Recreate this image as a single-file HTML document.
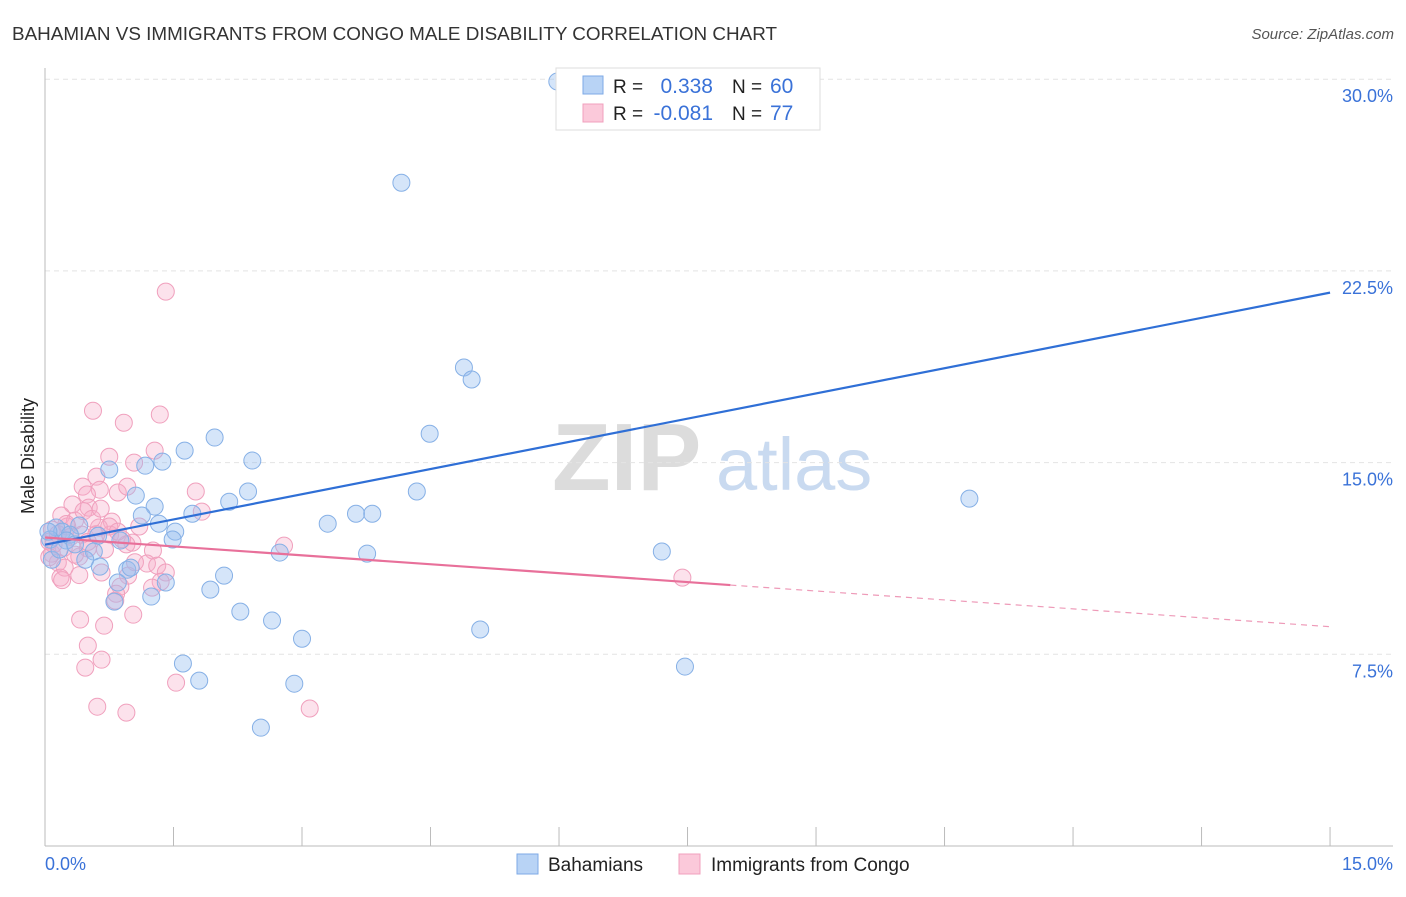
<!DOCTYPE html>
<html><head><meta charset="utf-8"><style>
body{margin:0;background:#fff;font-family:"Liberation Sans",sans-serif;}
svg text{font-family:"Liberation Sans",sans-serif;}
</style></head><body>
<svg id="chart" width="1406" height="892">
<text x="12" y="40" font-size="18" fill="#333" textLength="765" lengthAdjust="spacingAndGlyphs">BAHAMIAN VS IMMIGRANTS FROM CONGO MALE DISABILITY CORRELATION CHART</text>
<text x="1394" y="39" font-size="15" fill="#555" font-style="italic" text-anchor="end">Source: ZipAtlas.com</text>
<text x="34" y="456" font-size="18" fill="#222" transform="rotate(-90 34 456)" text-anchor="middle">Male Disability</text>
<g>
<text x="552" y="490" font-size="96" fill="#dcdcdc" font-family="Liberation Serif" font-weight="bold">ZIP</text>
<text x="716" y="490" font-size="74" fill="#c9daf0">atlas</text>
</g>
<g id="grid"></g><g id="axes"></g><g id="pts"></g><g id="lines"></g>
<g>
<rect x="556" y="68" width="264" height="62" fill="#fff" stroke="#ddd"/>
<rect x="583" y="76" width="20" height="18" fill="#b8d3f5" stroke="#7eaae6"/>
<rect x="583" y="104" width="20" height="18" fill="#fbc9da" stroke="#f0a0bd"/>
<text x="613" y="93" font-size="19" fill="#222">R =</text>
<text x="713" y="93" font-size="21" fill="#3a72d8" text-anchor="end">0.338</text>
<text x="732" y="93" font-size="19" fill="#222">N =</text>
<text x="770" y="93" font-size="21" fill="#3a72d8">60</text>
<text x="613" y="120" font-size="19" fill="#222">R =</text>
<text x="713" y="120" font-size="21" fill="#3a72d8" text-anchor="end">-0.081</text>
<text x="732" y="120" font-size="19" fill="#222">N =</text>
<text x="770" y="120" font-size="21" fill="#3a72d8">77</text>
</g>
<g>
<rect x="517" y="854" width="21" height="20" fill="#b8d3f5" stroke="#7eaae6"/>
<text x="548" y="871" font-size="19" fill="#222">Bahamians</text>
<rect x="679" y="854" width="21" height="20" fill="#fbc9da" stroke="#f0a0bd"/>
<text x="711" y="871" font-size="19" fill="#222">Immigrants from Congo</text>
</g>
</svg>
<script>
const yTicks=[7.5,15,22.5,30];
const yTickLabels=["7.5%","15.0%","22.5%","30.0%"];
const xTickLabels=["0.0%","15.0%"];
const blueX=[5.98,4.16,4.89,4.98,4.49,1.98,1.63,2.42,1.37,1.17,0.75,2.37,1.06,4.34,2.15,1.28,1.72,10.79,3.63,3.82,3.30,1.13,1.33,1.52,0.40,0.13,0.20,0.29,0.62,0.88,0.06,1.49,3.76,2.74,7.20,0.57,0.47,0.64,0.96,1.00,2.09,1.41,0.85,1.93,1.24,0.81,2.28,2.65,3.00,5.08,1.61,1.80,2.91,7.47,2.52,0.04,0.08,0.25,0.17,0.35];
const blueY=[29.91,25.95,18.72,18.25,16.13,15.98,15.47,15.08,15.04,14.88,14.73,13.87,13.71,13.87,13.47,13.28,13.00,13.59,13.00,13.00,12.61,12.93,12.61,12.30,12.54,12.46,12.30,12.18,12.14,11.95,11.99,11.99,11.44,11.48,11.52,11.52,11.20,10.93,10.81,10.89,10.58,10.31,10.31,10.03,9.76,9.56,9.17,8.82,8.11,8.47,7.14,6.47,6.35,7.02,4.63,12.3,11.2,11.95,11.6,11.8];
const pinkX=[1.41,0.56,1.34,0.92,1.28,0.75,1.04,0.60,0.44,0.64,0.85,0.96,0.49,1.76,0.32,0.51,1.83,0.19,0.35,0.78,0.26,0.63,0.08,0.43,0.76,0.05,1.02,2.79,0.22,0.50,1.26,0.08,0.40,0.15,1.19,1.31,0.23,0.66,0.97,1.41,0.18,1.35,1.25,0.88,7.44,0.83,0.82,1.03,0.41,0.69,0.50,0.66,0.47,1.53,0.61,0.95,3.09,0.1,0.3,0.6,0.9,0.2,0.7,1.1,0.45,0.55,0.35,0.05,0.75,0.15,0.95,0.4,0.25,0.65,0.85,1.05,0.5];
const pinkY=[21.69,17.03,16.88,16.56,15.47,15.23,15.00,14.45,14.06,13.94,13.83,14.06,13.75,13.87,13.36,13.24,13.08,12.93,12.73,12.69,12.50,12.46,12.38,12.18,12.18,11.91,11.87,11.75,11.67,11.64,11.56,11.44,11.32,11.09,11.05,10.97,10.89,10.70,10.58,10.70,10.50,10.34,10.11,10.15,10.50,9.87,9.60,9.05,8.86,8.62,7.84,7.29,6.98,6.39,5.45,5.22,5.38,11.8,12.1,12.2,12.0,10.4,11.6,12.5,13.1,12.8,11.4,11.3,12.5,12.2,11.8,10.6,12.6,13.2,12.3,11.1,11.9];
const blueTrend=[11.79,21.65];
const pinkTrend=[12.07,8.58];
const pinkSolidEnd=8.0;
const NS="http://www.w3.org/2000/svg";
const X=v=>45+v*85.67, Y=v=>846-v*25.56;
function mk(t,a,p){const e=document.createElementNS(NS,t);for(const k in a)e.setAttribute(k,a[k]);p.appendChild(e);return e;}
const grid=document.getElementById('grid'),axes=document.getElementById('axes'),pts=document.getElementById('pts'),lines=document.getElementById('lines');
yTicks.forEach((v,i)=>{
 const l=mk('line',{x1:45,x2:1393,y1:Y(v),y2:Y(v),stroke:'#e4e4e4','stroke-dasharray':'5,4'},grid);
 
 
 const t=mk('text',{x:1393,y:Y(v)+23,'font-size':18,fill:'#3a72d8','text-anchor':'end'},axes);
 t.textContent=yTickLabels[i];
 
 
});
mk('line',{x1:45,x2:45,y1:68,y2:846,stroke:'#bbb'},axes);
mk('line',{x1:45,x2:1393,y1:846,y2:846,stroke:'#bbb'},axes);
for(let i=0;i<=10;i++){const x=X(i*1.5);const tk=mk('line',{x1:x,x2:x,y1:827,y2:846,stroke:'#bbb'},axes);
 
 }
const xl0=mk('text',{x:45,y:870,'font-size':18,fill:'#3a72d8'},axes);xl0.textContent=xTickLabels[0];


const xl1=mk('text',{x:1393,y:870,'font-size':18,fill:'#3a72d8','text-anchor':'end'},axes);xl1.textContent=xTickLabels[1];


pinkX.forEach((v,i)=>{const c=mk('circle',{cx:X(v),cy:Y(pinkY[i]),r:8.5,fill:'rgba(246,172,200,0.35)',stroke:'#f0a0bd','stroke-width':1},pts);
 
 });
blueX.forEach((v,i)=>{const c=mk('circle',{cx:X(v),cy:Y(blueY[i]),r:8.5,fill:'rgba(150,190,240,0.4)',stroke:'#86b0e6','stroke-width':1},pts);
 
 });
const bl=mk('line',{x1:X(0),y1:Y(blueTrend[0]),x2:X(15),y2:Y(blueTrend[1]),stroke:'#2f6fd6','stroke-width':2.2},lines);


const pv=x=>pinkTrend[0]+(pinkTrend[1]-pinkTrend[0])*x/15;
const pl=mk('line',{x1:X(0),y1:Y(pv(0)),x2:X(pinkSolidEnd),y2:Y(pv(pinkSolidEnd)),stroke:'#e8709a','stroke-width':2.2},lines);


const pd=mk('line',{x1:X(pinkSolidEnd),y1:Y(pv(pinkSolidEnd)),x2:X(15),y2:Y(pv(15)),stroke:'#ee9ab8','stroke-width':1.2,'stroke-dasharray':'6,5'},lines);


</script>
</body></html>
